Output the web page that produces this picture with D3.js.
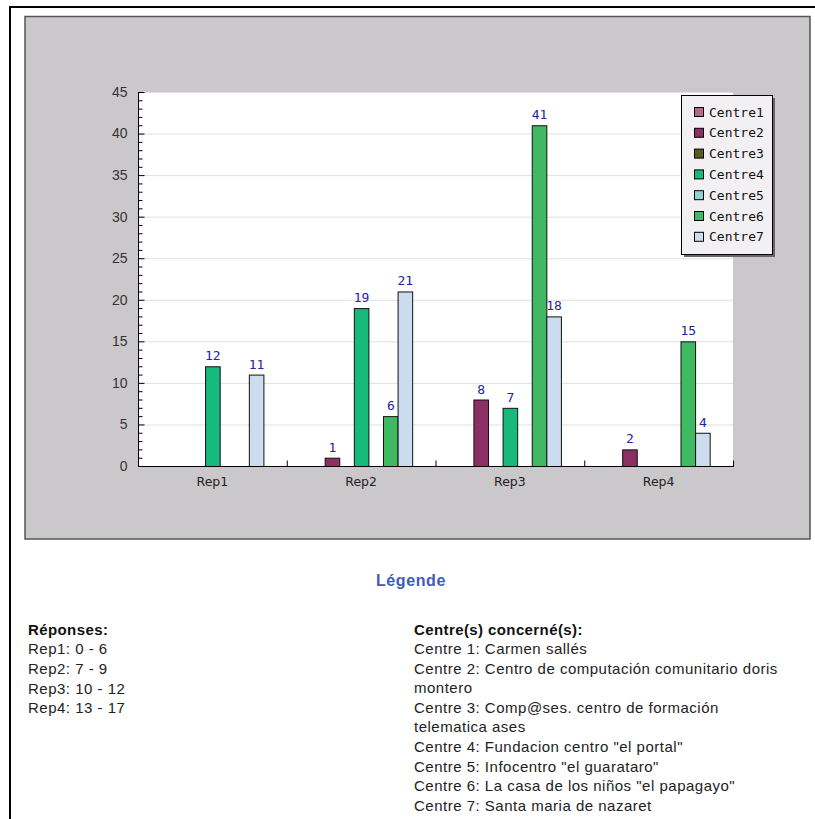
<!DOCTYPE html>
<html>
<head>
<meta charset="utf-8">
<script src="https://cdn.jsdelivr.net/npm/d3@7"></script>
<style>
  body { margin: 0; background: #fff; }
  svg { display: block; }
</style>
</head>
<body>
<div id="graph"></div>
<script>
// chart data
const categories = ["Rep1", "Rep2", "Rep3", "Rep4"];
const seriesNames = ["Centre1", "Centre2", "Centre3", "Centre4", "Centre5", "Centre6", "Centre7"];
const centre1 = [0, 0, 0, 0];
const centre2 = [0, 1, 8, 2];
const centre3 = [0, 0, 0, 0];
const centre4 = [12, 19, 7, 0];
const centre5 = [0, 0, 0, 0];
const centre6 = [0, 6, 41, 15];
const centre7 = [11, 21, 18, 4];
const seriesColors = ["#b5698a", "#8c2f63", "#5b5a1c", "#17b97c", "#8fd2d4", "#3fba62", "#cadcee"];
const yTicks = [0, 5, 10, 15, 20, 25, 30, 35, 40, 45];

const reponses = ["Rep1: 0 - 6", "Rep2: 7 - 9", "Rep3: 10 - 12", "Rep4: 13 - 17"];
const centresText = [
    "Centre 1: Carmen sallés",
    "Centre 2: Centro de computación comunitario doris",
    "montero",
    "Centre 3: Comp@ses. centro de formación",
    "telematica ases",
    "Centre 4: Fundacion centro \"el portal\"",
    "Centre 5: Infocentro \"el guarataro\"",
    "Centre 6: La casa de los niños \"el papagayo\"",
    "Centre 7: Santa maria de nazaret"
];

const allSeries = [centre1, centre2, centre3, centre4, centre5, centre6, centre7];

let width = 815, height = 819;
let plot = {left: 138, top: 92, right: 733, bottom: 466};

let svg = d3.select("#graph").append("svg")
    .attr("width", width)
    .attr("height", height);

// page frame
svg.append("line").attr("x1", 9).attr("x2", 815).attr("y1", 7).attr("y2", 7)
    .attr("stroke", "#000").attr("stroke-width", 2);
svg.append("line").attr("x1", 10).attr("x2", 10).attr("y1", 6).attr("y2", 819)
    .attr("stroke", "#000").attr("stroke-width", 2);

// gray chart panel
svg.append("rect")
    .attr("x", 25).attr("y", 16.5)
    .attr("width", 785).attr("height", 522.5)
    .attr("fill", "#cac8cb")
    .attr("stroke", "#555").attr("stroke-width", 1.5);

svg.append("rect")
    .attr("x", plot.left).attr("y", plot.top)
    .attr("width", plot.right - plot.left).attr("height", plot.bottom - plot.top)
    .attr("fill", "#fff");

let x0 = d3.scaleBand().domain(categories).range([plot.left, plot.right]);
let x1 = d3.scaleBand().domain(seriesNames).range([0, x0.bandwidth()]).paddingOuter(1.6);
let y = d3.scaleLinear().domain([0, 45]).range([plot.bottom, plot.top]);

// gridlines
svg.append("g").selectAll("line")
    .data(yTicks.filter(t => t > 0))
    .enter().append("line")
    .attr("x1", plot.left).attr("x2", plot.right)
    .attr("y1", d => y(d) + 0.5).attr("y2", d => y(d) + 0.5)
    .attr("stroke", "#e0e0e0");

// bars
let bars = [];
categories.forEach((c, ci) => {
    seriesNames.forEach((s, si) => {
        let v = allSeries[si][ci];
        if (v > 0) bars.push({cat: c, series: s, value: v, color: seriesColors[si]});
    });
});

svg.append("g").selectAll("rect")
    .data(bars)
    .enter().append("rect")
    .attr("x", d => x0(d.cat) + x1(d.series) + 0.5)
    .attr("y", d => y(d.value) + 0.5)
    .attr("width", x1.bandwidth())
    .attr("height", d => y(0) - y(d.value))
    .attr("fill", d => d.color)
    .attr("stroke", "#111");

svg.append("g").selectAll("text")
    .data(bars)
    .enter().append("text")
    .attr("x", d => x0(d.cat) + x1(d.series) + x1.bandwidth() / 2 + 0.5)
    .attr("y", d => y(d.value) - 6)
    .attr("text-anchor", "middle")
    .attr("font-family", "DejaVu Sans Mono, monospace")
    .attr("font-size", 13)
    .attr("fill", "#2323a3")
    .text(d => d.value);

// y axis
let yAxis = svg.append("g").attr("transform", "translate(" + (plot.left + 0.5) + ",0)");
yAxis.append("line").attr("y1", plot.top).attr("y2", plot.bottom).attr("stroke", "#000");
yAxis.selectAll(".minor")
    .data(d3.range(0, 46))
    .enter().append("line")
    .attr("x1", 0).attr("x2", d => d % 5 === 0 ? 6 : 4)
    .attr("y1", d => y(d) + 0.5).attr("y2", d => y(d) + 0.5)
    .attr("stroke", "#000");
yAxis.selectAll("text")
    .data(yTicks)
    .enter().append("text")
    .attr("x", -11)
    .attr("y", d => y(d))
    .attr("dy", "0.35em")
    .attr("text-anchor", "end")
    .attr("font-family", "Liberation Sans, Arial, sans-serif")
    .attr("font-size", 14)
    .attr("fill", "#333")
    .text(d => d);

// x axis
let xAxis = svg.append("g").attr("transform", "translate(0," + (plot.bottom + 0.5) + ")");
xAxis.append("line").attr("x1", plot.left).attr("x2", plot.right + 1).attr("stroke", "#000");
xAxis.selectAll(".tick")
    .data(categories.slice(1).map(c => x0(c)).concat([plot.right]))
    .enter().append("line")
    .attr("x1", d => d + 0.5).attr("x2", d => d + 0.5)
    .attr("y1", 0).attr("y2", -6)
    .attr("stroke", "#000");
xAxis.selectAll("text")
    .data(categories)
    .enter().append("text")
    .attr("x", d => x0(d) + x0.bandwidth() / 2)
    .attr("y", 19)
    .attr("text-anchor", "middle")
    .attr("font-family", "DejaVu Sans, sans-serif")
    .attr("font-size", 12.5)
    .attr("fill", "#222")
    .text(d => d);

// legend
let legend = svg.append("g").attr("transform", "translate(681,95)");
legend.append("rect").attr("x", 3).attr("y", 3).attr("width", 91).attr("height", 159).attr("fill", "#666");
legend.append("rect").attr("x", 0.5).attr("y", 0.5).attr("width", 91).attr("height", 159)
    .attr("fill", "#f2f0f3").attr("stroke", "#000");
let items = legend.selectAll(".item")
    .data(seriesNames)
    .enter().append("g")
    .attr("transform", (d, i) => "translate(0," + (17 + i * 20.8) + ")");
items.append("rect")
    .attr("x", 13.5).attr("y", -4.5).attr("width", 9).attr("height", 9)
    .attr("fill", (d, i) => seriesColors[i])
    .attr("stroke", "#000");
items.append("text")
    .attr("x", 28).attr("y", 0).attr("dy", "0.35em")
    .attr("font-family", "DejaVu Sans Mono, monospace")
    .attr("font-size", 13)
    .attr("fill", "#111")
    .text(d => d);

// text legend below
let txtFont = "Liberation Sans, Arial, sans-serif";
svg.append("text")
    .attr("x", 411).attr("y", 586)
    .attr("text-anchor", "middle")
    .attr("font-family", txtFont)
    .attr("font-weight", "bold")
    .attr("font-size", 16)
    .attr("letter-spacing", 0.6)
    .attr("fill", "#3d5bb8")
    .text("Légende");

svg.append("text")
    .attr("x", 28).attr("y", 635)
    .attr("font-family", txtFont).attr("font-weight", "bold").attr("font-size", 15)
    .attr("letter-spacing", 0.4)
    .attr("fill", "#111")
    .text("Réponses:");
svg.append("g").selectAll("text")
    .data(reponses)
    .enter().append("text")
    .attr("x", 28).attr("y", (d, i) => 654 + i * 19.8)
    .attr("font-family", txtFont).attr("font-size", 15)
    .attr("letter-spacing", 0.5)
    .attr("fill", "#222")
    .text(d => d);

svg.append("text")
    .attr("x", 414).attr("y", 635)
    .attr("font-family", txtFont).attr("font-weight", "bold").attr("font-size", 15)
    .attr("letter-spacing", 0.4)
    .attr("fill", "#111")
    .text("Centre(s) concerné(s):");
svg.append("g").selectAll("text")
    .data(centresText)
    .enter().append("text")
    .attr("x", 414).attr("y", (d, i) => 654 + i * 19.6)
    .attr("font-family", txtFont).attr("font-size", 15)
    .attr("letter-spacing", 0.5)
    .attr("fill", "#222")
    .text(d => d);
</script>
</body>
</html>
